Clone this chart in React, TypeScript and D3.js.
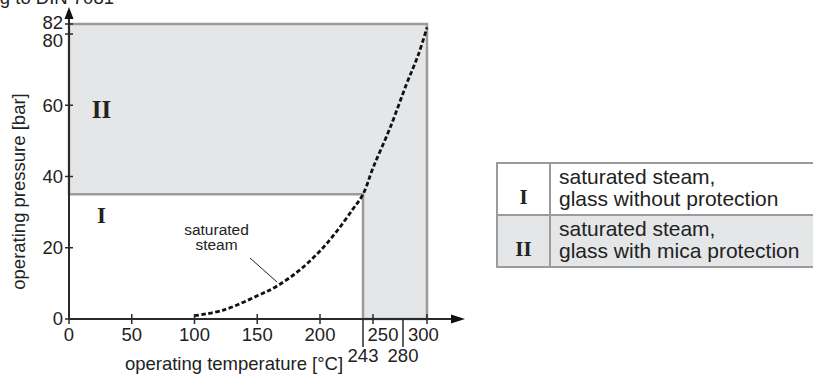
import React from 'react';
import * as d3 from 'd3';

// ---- data ----
const xTickValues = [0, 50, 100, 150, 200, 250, 300];
const xMarkerValues = [243, 280];
const yTickValues = [0, 20, 40, 60, 80, 82];
const steamTemp = [100, 123, 150, 166, 184, 200, 217, 233, 243, 250, 267, 283, 293, 300];
const steamPressure = [0.9, 2.5, 6.5, 9.3, 13.8, 19.1, 24.7, 30.9, 35, 42.4, 53.6, 66, 74.4, 81.3];
// boundary of region II (temperature, pressure)
const regionTemp = [0, 300, 300, 243, 243, 0];
const regionPressure = [82, 82, 0, 0, 35, 35];
const legendKeys = ['I', 'II'];
const legendLine1 = ['saturated steam,', 'saturated steam,'];
const legendLine2 = ['glass without protection', 'glass with mica protection'];
const annotationLines = ['saturated', 'steam'];
const titleText = 'according to DIN 7081';
const xLabel = 'operating temperature [°C]';
const yLabel = 'operating pressure [bar]';

const W = 813;
const H = 379;
const FONT = 'Liberation Sans, Arial, Helvetica, sans-serif';
const SERIF = 'Liberation Serif, Times New Roman, serif';
const GRAY_FILL = '#e5e6e8';
const GRAY_LINE = '#9b9b9b';
const AXIS = '#2a2a2a';
const TXT = '#222';
const FS = 18.5;

export default function App() {
  const x = d3.scaleLinear().domain([0, 200, 243, 250, 280, 300]).range([69, 320, 363, 373, 403, 427]);
  const y = d3.scaleLinear().domain([0, 80, 82]).range([319, 34, 24]);

  const regionPath = d3.line<number>()
    .x((i) => x(regionTemp[i]))
    .y((i) => y(regionPressure[i]))(regionTemp.map((_, i) => i)) + 'Z';

  const steamPath = d3.line<number>()
    .x((i) => x(steamTemp[i]))
    .y((i) => y(steamPressure[i]))
    .curve(d3.curveCatmullRom.alpha(0.5))(steamTemp.map((_, i) => i));

  const x0 = x(0);
  const y0 = y(0);

  const yLabelOffset = (v: number) => (v === 82 ? -1.5 : v === 80 ? 7 : 0);

  const legX = 497, legY = 163, legW = 320, rowH = 52, keyW = 53;

  return (
    <svg width={W} height={H} style={{ display: 'block', position: 'absolute', left: 0, top: 0 }}>
      <rect width={W} height={H} fill="#fff" />
      <text x={114} y={4} fontFamily={FONT} fontSize={FS} textAnchor="end" fill={TXT}>{titleText}</text>

      {/* region II */}
      <path d={regionPath} fill={GRAY_FILL} stroke={GRAY_LINE} strokeWidth={2.5} />

      {/* saturated steam curve */}
      <path d={steamPath || ''} fill="none" stroke="#111" strokeWidth={2.8} strokeDasharray="4.5,2.5" />

      {/* axes */}
      <line x1={x0} y1={y0} x2={x0} y2={17} stroke={AXIS} strokeWidth={2} />
      <path d={`M${x0},7 L${x0 - 4.5},19 L${x0 + 4.5},19 Z`} fill="#111" />
      <line x1={x0} y1={y0} x2={452} y2={y0} stroke={AXIS} strokeWidth={2} />
      <path d={`M465,${y0} L451,${y0 - 4.5} L451,${y0 + 4.5} Z`} fill="#111" />

      {/* y ticks */}
      {yTickValues.map((v) => (
        <g key={'y' + v}>
          <line x1={x0 - 4} x2={x0 + 4} y1={y(v)} y2={y(v)} stroke={AXIS} strokeWidth={1.5} />
          <text x={63} y={y(v) + yLabelOffset(v)} dy="0.35em" textAnchor="end" fontFamily={FONT} fontSize={FS} fill={TXT}>{v}</text>
        </g>
      ))}

      {/* x ticks */}
      {xTickValues.map((v) => {
        let lx = x(v);
        let anchor: 'middle' | 'start' = 'middle';
        if (v === 250) lx = (x(243) + x(280)) / 2;
        if (v === 300) { lx = x(280) + 5; anchor = 'start'; }
        return (
          <g key={'x' + v}>
            <line x1={x(v)} x2={x(v)} y1={y0 - 5} y2={y0 + 5} stroke={AXIS} strokeWidth={1.5} />
            <text x={lx} y={341} textAnchor={anchor} fontFamily={FONT} fontSize={FS} fill={TXT}>{v}</text>
          </g>
        );
      })}
      {xMarkerValues.map((v) => (
        <g key={'m' + v}>
          <line x1={x(v)} x2={x(v)} y1={y0} y2={347} stroke={AXIS} strokeWidth={1.5} />
          <text x={x(v)} y={362} textAnchor="middle" fontFamily={FONT} fontSize={FS} fill={TXT}>{v}</text>
        </g>
      ))}

      {/* axis labels */}
      <text x={234} y={370} textAnchor="middle" fontFamily={FONT} fontSize={FS} fill={TXT}>{xLabel}</text>
      <text transform={`translate(25,191.5) rotate(-90)`} textAnchor="middle" fontFamily={FONT} fontSize={FS} fill={TXT}>{yLabel}</text>

      {/* region numerals */}
      <text x={101.5} y={118} textAnchor="middle" fontFamily={SERIF} fontWeight="bold" fontSize={25} fill={TXT}>II</text>
      <text x={101.5} y={223} textAnchor="middle" fontFamily={SERIF} fontWeight="bold" fontSize={23} fill={TXT}>I</text>

      {/* saturated steam annotation */}
      {annotationLines.map((t, i) => (
        <text key={t} x={216.5} y={235 + i * 15} textAnchor="middle" fontFamily={FONT} fontSize={15.5} fill={TXT}>{t}</text>
      ))}
      <line x1={250} y1={258} x2={277} y2={282} stroke="#222" strokeWidth={1} />

      {/* legend */}
      {legendKeys.map((k, i) => (
        <g key={'leg' + k}>
          <rect x={legX} y={legY + i * rowH} width={legW} height={rowH} fill={i === 1 ? GRAY_FILL : '#fff'} stroke={GRAY_LINE} strokeWidth={2} />
          <line x1={legX + keyW} x2={legX + keyW} y1={legY + i * rowH} y2={legY + (i + 1) * rowH} stroke={GRAY_LINE} strokeWidth={2} />
          <text x={legX + keyW / 2} y={legY + i * rowH + 41} textAnchor="middle" fontFamily={SERIF} fontWeight="bold" fontSize={21} fill={TXT}>{k}</text>
          <text x={559} y={legY + i * rowH + 20.5} fontFamily={FONT} fontSize={21} fill={TXT}>{legendLine1[i]}</text>
          <text x={559} y={legY + i * rowH + 42.5} fontFamily={FONT} fontSize={21} fill={TXT}>{legendLine2[i]}</text>
        </g>
      ))}
    </svg>
  );
}
